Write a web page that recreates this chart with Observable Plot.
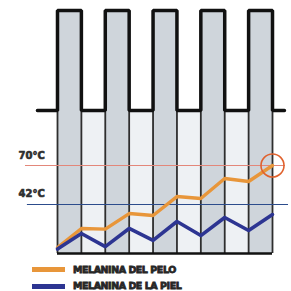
<!DOCTYPE html>
<html><head><meta charset="utf-8">
<script src="https://cdn.jsdelivr.net/npm/d3@7"></script>
<script src="https://cdn.jsdelivr.net/npm/@observablehq/plot@0.6"></script>
<style>
html,body{margin:0;padding:0;background:#fff;}
#legend{font-family:"DejaVu Sans",sans-serif;font-weight:bold;font-size:9.5px;color:#262626;}
.row{position:relative;height:16px;}
.sw{position:absolute;left:32px;width:33px;height:5px;}
.lb{position:absolute;left:73px;letter-spacing:-0.45px;-webkit-text-stroke:0.8px #262626;}
</style></head>
<body><div id="chart"></div>
<script>
// pulse timing (time units) and levels
const pulseStart = [0, 2, 4, 6, 8];
const pulseEnd = [1, 3, 5, 7, 9];
const waveStart = -0.84, waveEnd = 9.5;
const waveLow = 109.5, waveHigh = 181.3, floorLevel = 6.8;
// melanin temperatures at each edge
const edgeTime = [0, 1, 2, 3, 4, 5, 6, 7, 8, 9];
const hairMelanin = [11, 24.8, 24.3, 35.5, 34.1, 47.7, 46.3, 60.7, 58.5, 70];
const skinMelanin = [10, 21.2, 11.8, 24.8, 16.2, 29.8, 19.7, 32.7, 23.3, 34.8];
// thresholds
const thresholds = [70, 42];
const thresholdLabels = ["70°C", "42°C"];
const thresholdColors = ["#e3877a", "#2c4c8c"];
const seriesNames = ["MELANINA DEL PELO", "MELANINA DE LA PIEL"];
const seriesColors = ["#e8963a", "#2d3592"];

const bands = pulseStart.map((s, i) => ({x1: s, x2: pulseEnd[i]}));
const gaps = pulseStart.slice(1).map((s, i) => ({x1: pulseEnd[i], x2: s}));
const wave = [{t: waveStart, v: waveLow}];
pulseStart.forEach((s, i) => {
  wave.push({t: s, v: waveLow}, {t: s, v: waveHigh}, {t: pulseEnd[i], v: waveHigh}, {t: pulseEnd[i], v: waveLow});
});
wave.push({t: waveEnd, v: waveLow});
const hair = edgeTime.map((t, i) => ({t, v: hairMelanin[i]}));
const skin = edgeTime.map((t, i) => ({t, v: skinMelanin[i]}));
const rules = thresholds.map((v, i) => ({v, label: thresholdLabels[i], color: thresholdColors[i]}));

const chart = Plot.plot({
  width: 291, height: 258,
  margin: 0,
  x: {domain: [0, 9], range: [57, 272], axis: null},
  y: {domain: [42, 70], range: [204, 165], axis: null},
  marks: [
    Plot.rect(gaps, {x1: "x1", x2: "x2", y1: floorLevel, y2: waveLow, fill: "#eef1f4"}),
    Plot.rect(bands, {x1: "x1", x2: "x2", y1: floorLevel, y2: waveHigh, fill: "#cfd5db"}),
    Plot.ruleX(edgeTime, {x: d => d, y1: floorLevel, y2: waveLow, stroke: "#2e2e2e", strokeWidth: 1.8}),
    Plot.ruleY([rules[0]], {y: "v", x1: -1.34, x2: 9.54, stroke: "color", strokeWidth: 1.2}),
    Plot.ruleY([rules[1]], {y: "v", x1: -1.26, x2: 9.67, stroke: "color", strokeWidth: 1.2}),
    Plot.text(rules, {x: -1.63, y: d => d.v + (d.v === 70 ? 7.2 : 7.9), text: "label", textAnchor: "start",
      fontSize: 10, fontWeight: "bold", fill: "#2e2e2e", fontFamily: "DejaVu Sans", stroke: "#2e2e2e", strokeWidth: 0.6}),
    Plot.line(wave, {x: "t", y: "v", stroke: "#111", strokeWidth: 3.5, strokeLinejoin: "miter"}),
    Plot.ruleY([floorLevel], {x1: 0, x2: 9, stroke: "#111", strokeWidth: 2.5}),
    Plot.line(hair, {x: "t", y: "v", stroke: seriesColors[0], strokeWidth: 3.4}),
    Plot.line(skin, {x: "t", y: "v", stroke: seriesColors[1], strokeWidth: 3.6}),
    Plot.dot([hair[hair.length - 1]], {x: "t", y: "v", r: 11.5, stroke: "#e0622e", strokeWidth: 1.6, fill: "none"})
  ]
});
chart.style.display = "block";
document.getElementById("chart").append(chart);

const legend = document.createElement("div");
legend.id = "legend";
legend.style.paddingTop = "6px";
seriesNames.forEach((n, i) => {
  const row = document.createElement("div");
  row.className = "row";
  row.innerHTML = `<div class="sw" style="background:${seriesColors[i]};top:${i === 0 ? 3 : 4}px"></div><div class="lb" style="top:0px">${n}</div>`;
  legend.append(row);
});
document.getElementById("chart").append(legend);
</script></body></html>
